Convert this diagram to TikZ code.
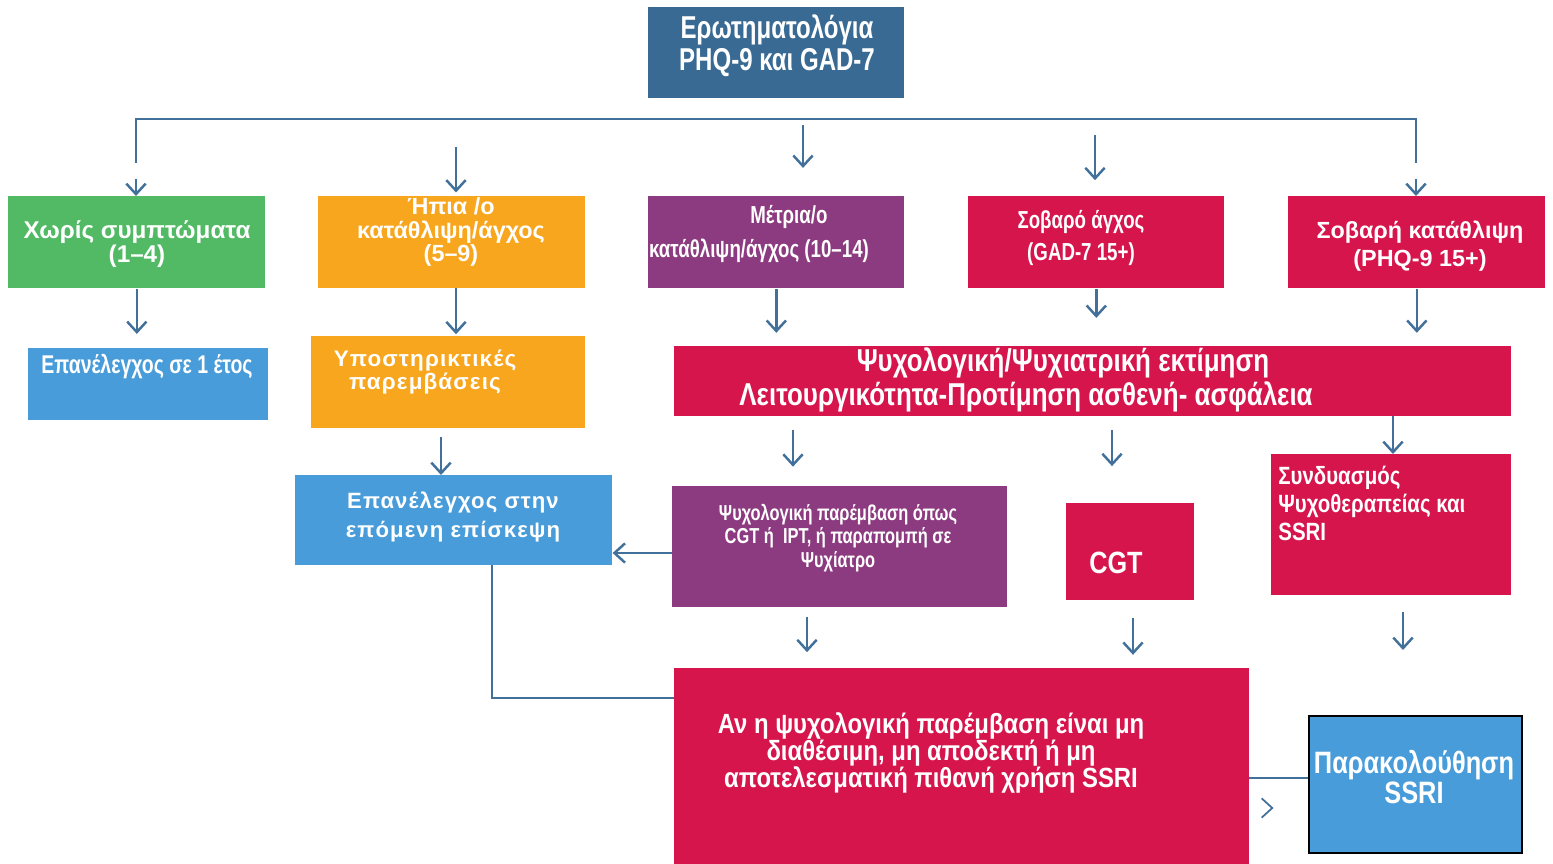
\documentclass[tikz,border=0pt]{standalone}
\usepackage{fontspec}
\setmainfont{Liberation Sans}
\newfontfamily\narrowfont[FakeStretch=0.82]{Liberation Sans}
\newfontfamily\midfont[FakeStretch=0.86]{Liberation Sans}
\newfontfamily\tightfont[FakeStretch=0.76]{Liberation Sans}
\newfontfamily\spacedfont[LetterSpace=5]{Liberation Sans}
\usetikzlibrary{arrows.meta}
\definecolor{steel}{HTML}{386A94}
\definecolor{lineblue}{HTML}{41709A}
\definecolor{leaf}{HTML}{52BA65}
\definecolor{amber}{HTML}{F8A61E}
\definecolor{plum}{HTML}{8D3B80}
\definecolor{crimson}{HTML}{D6154C}
\definecolor{sky}{HTML}{479CD9}

\begin{document}
\begin{tikzpicture}[x=0.02cm, y=-0.02cm,
    box/.style={rectangle, inner sep=0pt, anchor=north west},
    txt/.style={text=white, align=center, inner sep=0pt},
    conn/.style={draw=lineblue, line width=1.4pt},
    arr/.style={conn, -{Straight Barb[length=6pt,width=11pt]}}]
    \useasboundingbox (0,0) rectangle (1553,864);

    % boxes, first row
    \node[box, fill=steel, minimum width=5.12cm, minimum height=1.82cm] (top) at (648,7) {};
    \node[box, fill=leaf, minimum width=5.14cm, minimum height=1.84cm] (none) at (8,196) {};
    \node[box, fill=amber, minimum width=5.34cm, minimum height=1.84cm] (mild) at (318,196) {};
    \node[box, fill=plum, minimum width=5.12cm, minimum height=1.84cm] (moderate) at (648,196) {};
    \node[box, fill=crimson, minimum width=5.12cm, minimum height=1.84cm] (anxiety) at (968,196) {};
    \node[box, fill=crimson, minimum width=5.14cm, minimum height=1.84cm] (depression) at (1288,196) {};

    % boxes, second row
    \node[box, fill=sky, minimum width=4.8cm, minimum height=1.44cm] (yearly) at (28,348) {};
    \node[box, fill=amber, minimum width=5.48cm, minimum height=1.84cm] (support) at (311,336) {};
    \node[box, fill=crimson, minimum width=16.74cm, minimum height=1.4cm] (assess) at (674,346) {};

    % boxes, third row
    \node[box, fill=sky, minimum width=6.34cm, minimum height=1.8cm] (nextvisit) at (295,475) {};
    \node[box, fill=plum, minimum width=6.7cm, minimum height=2.42cm] (therapy) at (672,486) {};
    \node[box, fill=crimson, minimum width=2.56cm, minimum height=1.94cm] (cgt) at (1066,503) {};
    \node[box, fill=crimson, minimum width=4.8cm, minimum height=2.82cm] (combo) at (1271,454) {};

    % boxes, last row
    \node[box, fill=crimson, minimum width=11.5cm, minimum height=3.92cm] (ssri) at (674,668) {};
    \node[box, fill=sky, draw=black, line width=1.2pt, minimum width=4.26cm, minimum height=2.74cm] (monitor) at (1308,715) {};

    % texts
    \node[txt, font=\tightfont\bfseries\fontsize{18}{19}\selectfont] (t-top) at (777,46) {Ερωτηματολόγια\\[-1pt]PHQ-9 και GAD-7};
    \node[txt, font=\bfseries\fontsize{13.8}{14}\selectfont] (t-none) at (137,244) {Χωρίς συμπτώματα\\(1–4)};
    \node[txt, font=\bfseries\fontsize{13.3}{13.3}\selectfont] (t-mild) at (451,232) {Ήπια /ο\\κατάθλιψη/άγχος\\(5–9)};
    \node[txt, font=\tightfont\bfseries\fontsize{14}{19}\selectfont] (t-moderate) at (759,234) {\hspace*{34pt}Μέτρια/ο\\κατάθλιψη/άγχος (10–14)};
    \node[txt, font=\tightfont\bfseries\fontsize{14}{18}\selectfont] (t-anxiety) at (1081,238) {Σοβαρό άγχος\\(GAD-7 15+)};
    \node[txt, font=\bfseries\fontsize{13.3}{16}\selectfont] (t-depression) at (1420,246) {Σοβαρή κατάθλιψη\\(PHQ-9 15+)};
    \node[txt, font=\tightfont\bfseries\fontsize{14.6}{16}\selectfont] (t-yearly) at (147,367) {Επανέλεγχος σε 1 έτος};
    \node[txt, font=\spacedfont\bfseries\fontsize{12.8}{13}\selectfont] (t-support) at (425,372) {Υποστηρικτικές\\παρεμβάσεις};
    \node[txt, font=\narrowfont\bfseries\fontsize{18}{19.3}\selectfont] (t-assess) at (1026,380) {\hspace*{42pt}Ψυχολογική/Ψυχιατρική εκτίμηση\\Λειτουργικότητα-Προτίμηση ασθενή- ασφάλεια};
    \node[txt, font=\spacedfont\bfseries\fontsize{12.6}{16}\selectfont] (t-nextvisit) at (453,517) {Επανέλεγχος στην\\επόμενη επίσκεψη};
    \node[txt, font=\tightfont\bfseries\fontsize{12.3}{13.5}\selectfont] (t-therapy) at (838,538) {Ψυχολογική παρέμβαση όπως\\CGT ή~ IPT, ή παραπομπή σε\\Ψυχίατρο};
    \node[txt, font=\narrowfont\bfseries\fontsize{17.5}{17}\selectfont] (t-cgt) at (1116,563) {CGT};
    \node[txt, align=left, anchor=north west, font=\narrowfont\bfseries\fontsize{14.2}{16}\selectfont] (t-combo) at (1278,466) {Συνδυασμός\\Ψυχοθεραπείας και\\SSRI};
    \node[txt, font=\midfont\bfseries\fontsize{15.8}{15.6}\selectfont] (t-ssri) at (931,753) {Αν η ψυχολογική παρέμβαση είναι μη\\διαθέσιμη, μη αποδεκτή ή μη\\αποτελεσματική πιθανή χρήση SSRI};
    \node[txt, font=\narrowfont\bfseries\fontsize{17.6}{17}\selectfont] (t-monitor) at (1414,777) {Παρακολούθηση\\SSRI};

    % free ends
    \coordinate (busL) at (136,119);
    \coordinate (busR) at (1416,119);
    \coordinate (gapL) at (136,163);
    \coordinate (gapR) at (1416,163);
    \coordinate (headL) at (136,179);
    \coordinate (headR) at (1416,179);
    \coordinate (a-mild) at (456,147);
    \coordinate (a-moderate) at (803,125);
    \coordinate (a-anxiety) at (1095,135);
    \coordinate (a-support) at (456,288);
    \coordinate (a-next) at (441,437);
    \coordinate (a-therapy) at (793,430);
    \coordinate (a-cgt) at (1112,430);
    \coordinate (a-combo) at (1393,416);
    \coordinate (b-therapy) at (807,617);
    \coordinate (b-cgt) at (1133,618);
    \coordinate (b-combo) at (1403,612);
    \coordinate (e-combo) at (1403,650);
    \coordinate (back) at (672,553);
    \coordinate (down) at (492,565);
    \coordinate (loop) at (492,698);
    \coordinate (side) at (1249,778);
    \coordinate (tip) at (1273,808);

    % top bus
    \draw[conn] (gapL) -- (busL) -- (busR) -- (gapR);
    \draw[arr] (headL) -- (none.north -| headL);
    \draw[arr] (headR) -- (depression.north -| headR);
    \draw[arr, shorten >=2pt] (a-mild) -- (a-mild |- mild.north);
    \draw[arr, shorten >=16pt] (a-moderate) -- (a-moderate |- moderate.north);
    \draw[arr, shorten >=9pt] (a-anxiety) -- (a-anxiety |- anxiety.north);

    % down to second row
    \draw[arr, shorten >=8pt] (none.south) -- (none.south |- yearly.north);
    \draw[arr, shorten >=1pt] (a-support) -- (a-support |- support.north);
    \draw[arr, shorten >=7.5pt] (moderate.south) -- (moderate.south |- assess.north);
    \draw[arr, shorten >=16pt] (anxiety.south) -- (anxiety.south |- assess.north);
    \draw[arr, shorten >=7.5pt] (depression.south) -- (depression.south |- assess.north);

    % down to third row
    \draw[arr] (a-next) -- (a-next |- nextvisit.north);
    \draw[arr, shorten >=11pt] (a-therapy) -- (a-therapy |- therapy.north);
    \draw[arr, shorten >=21pt] (a-cgt) -- (a-cgt |- cgt.north);
    \draw[arr] (a-combo) -- (a-combo |- combo.north);
    \draw[arr] (back) -- (back -| nextvisit.east);

    % down to last row
    \draw[arr, shorten >=9pt] (b-therapy) -- (b-therapy |- ssri.north);
    \draw[arr, shorten >=7.5pt] (b-cgt) -- (b-cgt |- ssri.north);
    \draw[arr] (b-combo) -- (e-combo);
    \draw[conn] (down) -- (loop) -- (loop -| ssri.west);
    \draw[conn] (side) -- (side -| monitor.west);
    \draw[arr, line width=1pt] (tip) -- ++(0.5,0);
\end{tikzpicture}
\end{document}
